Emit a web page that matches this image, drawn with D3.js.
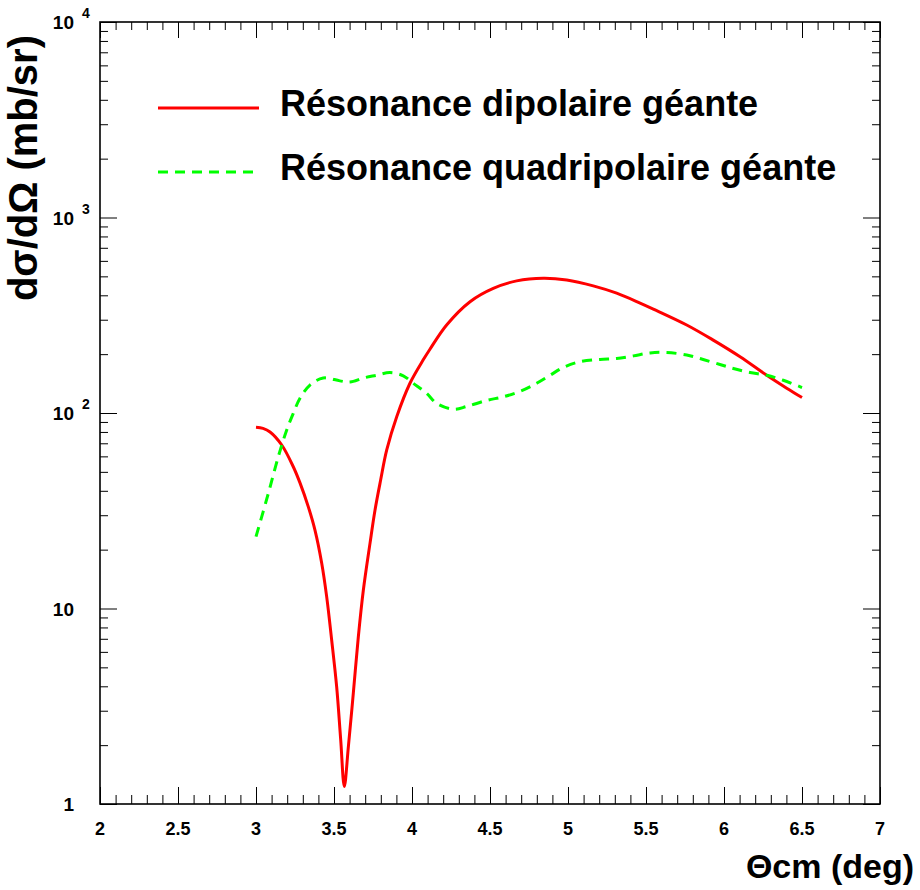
<!DOCTYPE html>
<html>
<head>
<meta charset="utf-8">
<script src="https://cdn.jsdelivr.net/npm/d3@7"></script>
<style>
  html, body { margin: 0; padding: 0; background: #fff; }
  svg { display: block; }
  text { font-family: "Liberation Sans", Arial, Helvetica, sans-serif; font-weight: bold; fill: #000; }
</style>
</head>
<body>
<svg id="chart" width="920" height="890"></svg>
<script>
// Differential cross sections (mb/sr) versus centre-of-mass angle (deg)
const thetaDipole = [3.0, 3.045, 3.09, 3.165, 3.239, 3.282, 3.335, 3.378, 3.421, 3.453, 3.485, 3.517, 3.543, 3.566,
  3.592, 3.624, 3.656, 3.688, 3.731, 3.763, 3.799, 3.838, 3.902, 3.987, 4.072, 4.115, 4.222, 4.372, 4.521,
  4.671, 4.842, 4.992, 5.162, 5.312, 5.462, 5.547, 5.761, 5.931, 6.103, 6.274, 6.402, 6.5];
const sigmaDipole = [84.5, 83.4, 80.0, 68.6, 53.1, 43.9, 33.2, 25.2, 17.1, 11.5, 6.9, 3.98, 2.13, 1.23,
  1.96, 3.7, 7.17, 12.4, 21.6, 31.9, 45.4, 64.7, 95.7, 142, 187, 212, 282, 371, 434,
  474, 489, 479, 447, 410, 365, 340, 282, 236, 194, 156, 134, 120];

const thetaQuad = [3.0, 3.079, 3.143, 3.197, 3.239, 3.282, 3.346, 3.431, 3.538, 3.603, 3.688, 3.774, 3.859,
  3.944, 4.008, 4.094, 4.158, 4.265, 4.351, 4.479, 4.585, 4.692, 4.799, 4.885, 4.97, 5.077, 5.205, 5.312,
  5.419, 5.526, 5.633, 5.761, 5.846, 5.974, 6.06, 6.167, 6.274, 6.38, 6.5];
const sigmaQuad = [23.3, 38.8, 59.8, 81.9, 99.6, 119, 139, 151, 146, 144, 151, 156, 161,
  155, 142, 126, 112, 104.5, 108, 116, 121, 129, 142, 156, 171, 183, 188, 190,
  196, 203, 204, 198, 190, 177, 169, 161, 156, 147, 135];

const xTickLabels = ["2", "2.5", "3", "3.5", "4", "4.5", "5", "5.5", "6", "6.5", "7"];
const yTickLabels = [["1", ""], ["10", ""], ["10", "2"], ["10", "3"], ["10", "4"]];

const seriesNames = ["Résonance dipolaire géante", "Résonance quadripolaire géante"];
const seriesColors = ["#ff0000", "#00ff00"];

const xTitle = "Θcm (deg)";
const yTitle = "dσ/dΩ (mb/sr)";

const svg = d3.select("#chart");
const frame = { left: 100, right: 880, top: 22, bottom: 804 };

const x = d3.scaleLinear().domain([2, 7]).range([frame.left, frame.right]);
const y = d3.scaleLog().domain([1, 1e4]).range([frame.bottom, frame.top]);

// tick positions
const xMajor = d3.range(0, 11).map(i => 2 + i * 0.5);
const xMinor = d3.range(0, 51).map(i => 2 + i * 0.1).filter(v => Math.abs(v * 2 - Math.round(v * 2)) > 1e-6);
const yMajor = [1, 10, 100, 1000, 10000];
const yMinor = [];
for (let d = 0; d < 4; d++) for (let m = 2; m <= 9; m++) yMinor.push(m * Math.pow(10, d));

function tickAxis(axisFn, scale, values, size, transform) {
  const g = svg.append("g").attr("transform", transform)
    .call(axisFn(scale).tickValues(values).tickSize(size).tickFormat(""));
  g.select(".domain").remove();
  g.selectAll(".tick line").attr("stroke", "#000").attr("stroke-width", 1);
  return g;
}

// bottom / top axes (ticks pointing inward)
tickAxis(d3.axisBottom, x, xMinor, -9, `translate(0,${frame.bottom})`);
tickAxis(d3.axisBottom, x, xMajor, -17, `translate(0,${frame.bottom})`);
tickAxis(d3.axisTop, x, xMinor, -8, `translate(0,${frame.top})`);
tickAxis(d3.axisTop, x, xMajor, -16, `translate(0,${frame.top})`);
// left / right axes
tickAxis(d3.axisLeft, y, yMinor, -8, `translate(${frame.left},0)`);
tickAxis(d3.axisLeft, y, yMajor, -17, `translate(${frame.left},0)`);
tickAxis(d3.axisRight, y, yMinor, -8, `translate(${frame.right},0)`);
tickAxis(d3.axisRight, y, yMajor, -17, `translate(${frame.right},0)`);

// frame
svg.append("rect")
  .attr("x", frame.left).attr("y", frame.top)
  .attr("width", frame.right - frame.left).attr("height", frame.bottom - frame.top)
  .attr("fill", "none").attr("stroke", "#000").attr("stroke-width", 1.6);

// x tick labels
svg.append("g").selectAll("text").data(xMajor).join("text")
  .attr("x", d => x(d)).attr("y", frame.bottom + 31)
  .attr("text-anchor", "middle").attr("font-size", 18)
  .text((d, i) => xTickLabels[i]);

// y tick labels with exponents
const yl = svg.append("g");
yMajor.forEach((v, i) => {
  const [base, exp] = yTickLabels[i];
  yl.append("text").attr("x", 74).attr("y", y(v) + 7)
    .attr("text-anchor", "end").attr("font-size", 19).text(base);
  if (exp) {
    yl.append("text").attr("x", 82).attr("y", y(v) - 4)
      .attr("text-anchor", "start").attr("font-size", 14).text(exp);
  }
});

// curves
const line = d3.line()
  .x(d => x(d[0])).y(d => y(d[1]))
  .curve(d3.curveCatmullRom.alpha(0.5));

const plot = svg.append("g");
plot.append("path")
  .datum(d3.zip(thetaDipole, sigmaDipole))
  .attr("d", line)
  .attr("fill", "none").attr("stroke", seriesColors[0]).attr("stroke-width", 3)
  .attr("stroke-linejoin", "round");
plot.append("path")
  .datum(d3.zip(thetaQuad, sigmaQuad))
  .attr("d", line)
  .attr("fill", "none").attr("stroke", seriesColors[1]).attr("stroke-width", 3)
  .attr("stroke-dasharray", "10,7");

// legend
const legend = svg.append("g");
[0, 1].forEach(i => {
  const ly = 108 + i * 64;
  legend.append("line")
    .attr("x1", 158).attr("x2", 259).attr("y1", ly).attr("y2", ly)
    .attr("stroke", seriesColors[i]).attr("stroke-width", 3)
    .attr("stroke-dasharray", i === 1 ? "10,7" : null);
  legend.append("text")
    .attr("x", 280).attr("y", ly + 8)
    .attr("font-size", 36)
    .text(seriesNames[i]);
});

// axis titles
svg.append("text")
  .attr("x", 914).attr("y", 878)
  .attr("text-anchor", "end").attr("font-size", 34)
  .text(xTitle);
svg.append("text")
  .attr("transform", "translate(37,35) rotate(-90)")
  .attr("text-anchor", "end").attr("font-size", 40)
  .text(yTitle);
</script>
</body>
</html>
